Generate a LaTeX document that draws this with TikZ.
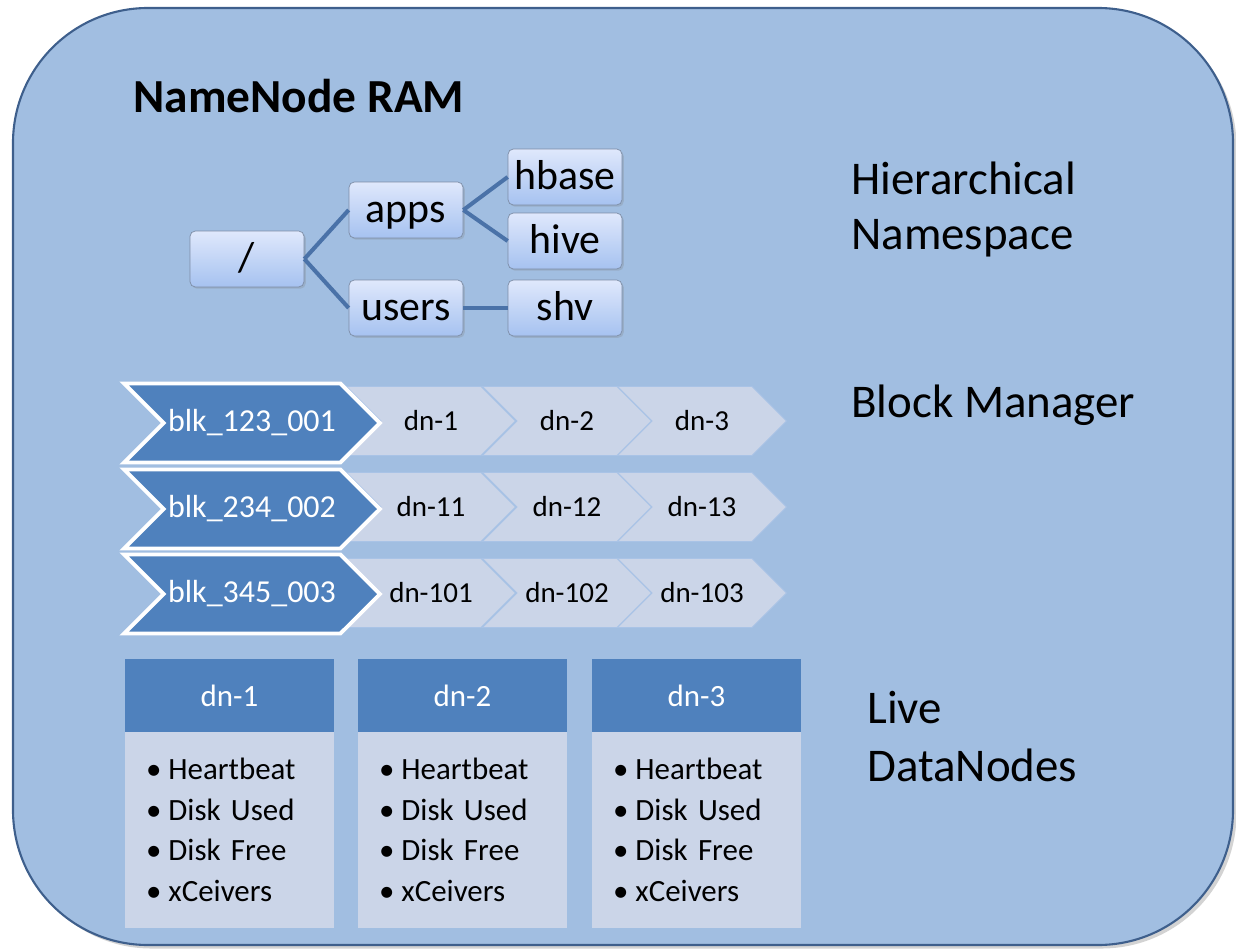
\documentclass[tikz,border=0pt]{standalone}
\usepackage{fontspec}
\setmainfont{Carlito}
\usetikzlibrary{positioning, shapes.symbols, shadows}
\definecolor{ram}{HTML}{A1BEE1}
\definecolor{ramEdge}{HTML}{3E5F8C}
\definecolor{blkDark}{HTML}{4F81BD}
\definecolor{blkLight}{HTML}{CBD5E8}
\definecolor{blkLine}{HTML}{A9C3E6}
\definecolor{treeLine}{HTML}{4A72A8}
\definecolor{dirTop}{HTML}{DFE8FC}
\definecolor{dirBot}{HTML}{A6C2F0}
\definecolor{dirEdge}{HTML}{7D8DA6}
\newcommand{\hb}{\textbullet\hspace{4pt}}
\tikzset{%
  ramBox/.style = {fill=ram, draw=ramEdge, line width=1.2pt, rounded corners=2.7cm,
                   drop shadow={shadow xshift=2pt, shadow yshift=-2pt, opacity=0.35}},
  dir/.style = {rectangle, rounded corners=3pt, draw=dirEdge, top color=dirTop,
                bottom color=dirBot, minimum width=2.28cm, minimum height=1.12cm,
                inner sep=0pt, text height=18pt, text depth=4pt,
                font=\fontsize{23.8}{26}\selectfont,
                drop shadow={shadow xshift=1pt, shadow yshift=-1pt, opacity=0.25}},
  branch/.style = {draw=treeLine, line width=2.3pt},
  blk/.style = {signal, signal from=west, signal to=east, fill=blkDark, draw=white,
                line width=2.2pt, text=white, minimum width=5.12cm, minimum height=1.58cm,
                inner sep=0pt, font=\fontsize{18.2}{20}\selectfont},
  loc/.style = {signal, signal from=west, signal to=east, fill=blkLight, draw=blkLine,
                line width=0.5pt, minimum width=3.38cm, minimum height=1.38cm,
                inner sep=0pt, font=\fontsize{16.5}{19}\selectfont},
  dnHead/.style = {rectangle, fill=blkDark, text=white, minimum width=4.18cm,
                   minimum height=1.46cm, outer sep=0pt, font=\fontsize{17.6}{20}\selectfont},
  dnBody/.style = {rectangle, fill=blkLight, minimum width=4.18cm, minimum height=3.92cm,
                   text width=3.34cm, inner xsep=0.42cm, inner ysep=0pt, outer sep=0pt,
                   align=left, font=\fontsize{17.6}{23.2}\selectfont},
  partLabel/.style = {font=\fontsize{26.7}{31.3}\selectfont, align=left, inner sep=0pt}
  }

\begin{document}
\begin{tikzpicture}[x=0.02cm, y=-0.02cm]
    \useasboundingbox (0,0) rectangle (1236,952);

    % the RAM frame
    \path[ramBox] (13,8) rectangle (1233,945);
    \node (title) [anchor=base west, inner sep=0pt, font=\bfseries\fontsize{27}{32}\selectfont]
          at (133,113) {NameNode RAM};

    % namespace tree
    \node (root)  [dir] at (247,259) {/};
    \node (apps)  [dir] at (406,210) {apps};
    \node (users) [dir] at (406,308) {users};
    \node (hbase) [dir] at (565,177) {hbase};
    \node (hive)  [dir] at (565,241) {hive};
    \node (shv)   [dir] at (565,308) {shv};

    \path (root.east)  edge [branch] (apps.west)
                       edge [branch] (users.west)
          (apps.east)  edge [branch] (hbase.west)
                       edge [branch] (hive.west)
          (users)      edge [branch] (shv);

    % block map
    \node (loc13) [loc] at (702,421) {dn-3};
    \node (loc12) [loc] at (567,421) {dn-2};
    \node (loc11) [loc] at (431,421) {dn-1};
    \node (blk1)  [blk] at (252,423) {blk\_123\_001};

    \node (loc23) [loc] at (702,507) {dn-13};
    \node (loc22) [loc] at (567,507) {dn-12};
    \node (loc21) [loc] at (431,507) {dn-11};
    \node (blk2)  [blk] at (252,509) {blk\_234\_002};

    \node (loc33) [loc] at (702,593) {dn-103};
    \node (loc32) [loc] at (567,593) {dn-102};
    \node (loc31) [loc] at (431,593) {dn-101};
    \node (blk3)  [blk] at (252,594) {blk\_345\_003};

    % live datanodes
    \node (head1) [dnHead] at (229.5,695.5) {dn-1};
    \node (head2) [dnHead] at (462.5,695.5) {dn-2};
    \node (head3) [dnHead] at (696.5,695.5) {dn-3};
    \node (body1) [dnBody, below=0pt of head1]
          {\hb Heartbeat\\ \hb Disk Used\\ \hb Disk Free\\ \hb xCeivers\\[4pt]};
    \node (body2) [dnBody, below=0pt of head2]
          {\hb Heartbeat\\ \hb Disk Used\\ \hb Disk Free\\ \hb xCeivers\\[4pt]};
    \node (body3) [dnBody, below=0pt of head3]
          {\hb Heartbeat\\ \hb Disk Used\\ \hb Disk Free\\ \hb xCeivers\\[4pt]};

    % part labels
    \node (nsLabel) [partLabel, anchor=north west] at (851,162) {Hierarchical\\Namespace};
    \node (bmLabel) [partLabel, anchor=base west]  at (851,418) {Block Manager};
    \node (dnLabel) [partLabel, anchor=north west, font=\fontsize{26.7}{33}\selectfont]
          at (867,691) {Live\\DataNodes};
\end{tikzpicture}
\end{document}
